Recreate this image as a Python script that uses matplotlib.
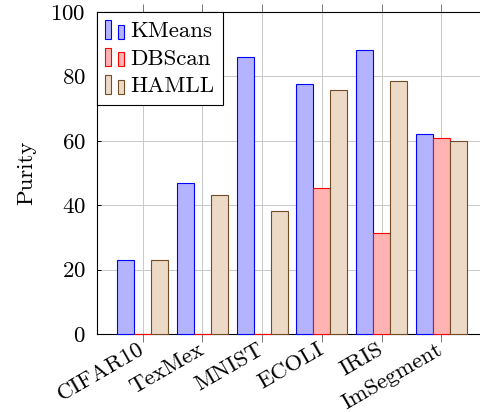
import matplotlib
matplotlib.use("Agg")
import matplotlib.pyplot as plt
from matplotlib.patches import Rectangle
from matplotlib.legend_handler import HandlerBase
import numpy as np

# Purity per dataset for each clustering method
datasets = ["CIFAR10", "TexMex", "MNIST", "ECOLI", "IRIS", "ImSegment"]
kmeans = [23.1, 47.0, 86.1, 77.7, 88.1, 62.2]
dbscan = [0.0, 0.0, 0.0, 45.4, 31.3, 61.0]
hamll = [23.1, 43.1, 38.1, 75.7, 78.7, 60.0]
yticks = [0, 20, 40, 60, 80, 100]

plt.rcParams["font.family"] = ["cmr10", "DejaVu Serif"]
plt.rcParams["axes.formatter.use_mathtext"] = True
plt.rcParams["font.size"] = 16.5

W, H = 481, 412
fig = plt.figure(figsize=(W / 100, H / 100), dpi=100)
left, right, bottom, top = 97, 487, 334, 12
ax = fig.add_axes([left / W, 1 - bottom / H, (right - left) / W, (bottom - top) / H])

series = [
    ("KMeans", kmeans, "#0000ff", "#b3b3ff"),
    ("DBScan", dbscan, "#ff0000", "#ffb3b3"),
    ("HAMLL", hamll, "#734d26", "#ecd9c6"),
]
x = np.arange(len(datasets))
bw = 0.285
handles = []
for i, (name, vals, ec, fc) in enumerate(series):
    bars = ax.bar(x + (i - 1) * bw, vals, width=bw, color=fc, edgecolor=ec,
                  linewidth=0.8, label=name, zorder=3, clip_on=False)
    handles.append(bars.patches[0])

ax.set_xlim(-0.766, len(datasets) - 1 + 0.766)
ax.set_ylim(0, 100)
ax.set_yticks(yticks)
ax.set_xticks(x)
ax.set_xticklabels(datasets, rotation=30, ha="right", va="center",
                   rotation_mode="anchor")
ax.grid(True, color="#c8c8c8", linewidth=0.7, zorder=0)
ax.set_axisbelow(True)

ax.tick_params(axis="x", direction="out", length=6, width=0.7, color="#777777",
               top=True, bottom=True, pad=4)
ax.tick_params(axis="y", direction="in", length=3, width=0.7, pad=8)
for s in ["left", "bottom", "top"]:
    ax.spines[s].set_linewidth(0.8)
    ax.spines[s].set_zorder(2.5)
ax.spines["right"].set_visible(False)

ax.set_ylabel("Purity")
ax.yaxis.set_label_coords(-0.156, 0.5)


class TwoBarHandler(HandlerBase):
    """Legend key drawn as two small bars, the first taller than the second."""

    def create_artists(self, legend, orig_handle, xdescent, ydescent, width,
                       height, fontsize, trans):
        fc = orig_handle.get_facecolor()
        ec = orig_handle.get_edgecolor()
        w = width * 0.33
        r1 = Rectangle((-xdescent, -ydescent), w, height, facecolor=fc,
                       edgecolor=ec, linewidth=0.8, transform=trans)
        r2 = Rectangle((-xdescent + width - w, -ydescent), w, height * 0.75,
                       facecolor=fc, edgecolor=ec, linewidth=0.8, transform=trans)
        return [r1, r2]


leg = ax.legend(handles=handles, labels=[s[0] for s in series],
                handler_map={Rectangle: TwoBarHandler()},
                loc="upper left", bbox_to_anchor=(0, 1), borderaxespad=0,
                fancybox=False, framealpha=1, edgecolor="black",
                handlelength=0.8, handleheight=0.85, handletextpad=0.3,
                borderpad=0.36, labelspacing=0.28)
leg.get_frame().set_linewidth(0.8)
leg.set_zorder(5)

fig.savefig("out.png", dpi=100)
